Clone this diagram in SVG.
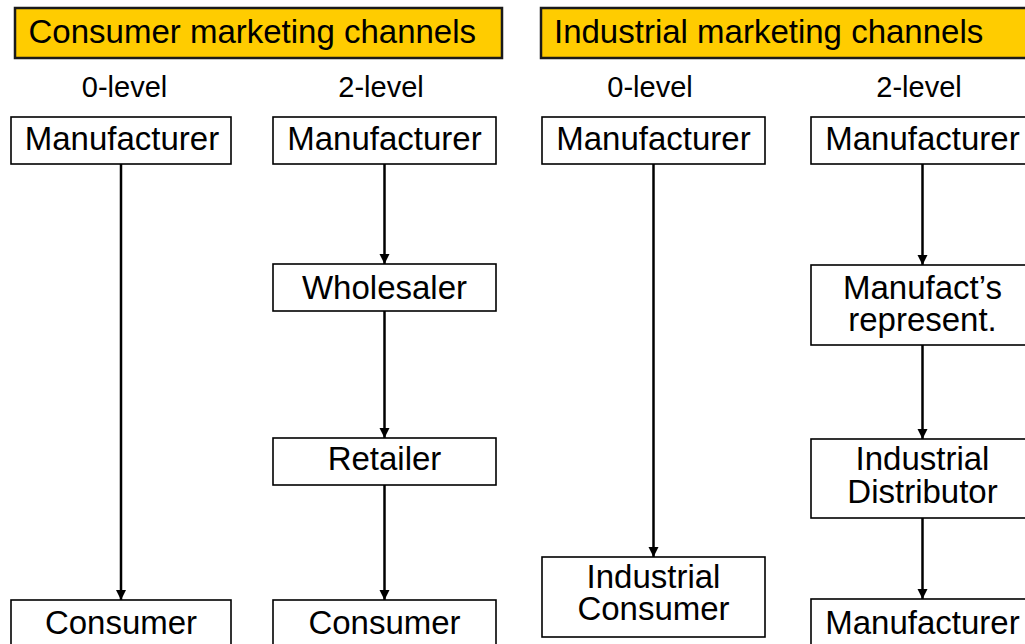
<svg xmlns="http://www.w3.org/2000/svg" width="1025" height="644" viewBox="0 0 1025 644">
  <style>
    text { font-family: "Liberation Sans", Arial, sans-serif; fill: #000; }
    .hdr rect { fill: #FFCC00; stroke: #1a1a1a; stroke-width: 2.5; }
    .hdr text { font-size: 33px; }
    .lvl { font-size: 29px; text-anchor: middle; }
    .node rect { fill: #fff; stroke: #000; stroke-width: 1.6; }
    .node text { font-size: 33px; text-anchor: middle; }
    .conn line { stroke: #000; stroke-width: 2.5; marker-end: url(#arrow); }
  </style>
  <defs>
    <marker id="arrow" markerUnits="userSpaceOnUse" markerWidth="11" markerHeight="11" refX="10" refY="5" orient="auto">
      <path d="M0,0 L10,5 L0,10 z" fill="#000"/>
    </marker>
  </defs>

  <rect width="1025" height="644" fill="#fff"/>

  <!-- section headers -->
  <g id="hdr-consumer" class="hdr">
    <rect x="15" y="8" width="487" height="50"/>
    <text x="28.5" y="43">Consumer marketing channels</text>
  </g>
  <g id="hdr-industrial" class="hdr">
    <rect x="541" y="8" width="500" height="50"/>
    <text x="554" y="43">Industrial marketing channels</text>
  </g>

  <!-- channel level labels -->
  <g id="levels">
    <text class="lvl" x="124.5" y="97">0-level</text>
    <text class="lvl" x="381" y="97">2-level</text>
    <text class="lvl" x="650" y="97">0-level</text>
    <text class="lvl" x="919" y="97">2-level</text>
  </g>

  <!-- connectors -->
  <g id="connectors" class="conn">
    <line x1="121" y1="164" x2="121" y2="600"/>
    <line x1="384.5" y1="164" x2="384.5" y2="264"/>
    <line x1="384.5" y1="311" x2="384.5" y2="438"/>
    <line x1="384.5" y1="485" x2="384.5" y2="600"/>
    <line x1="653.5" y1="164" x2="653.5" y2="557"/>
    <line x1="922.5" y1="164" x2="922.5" y2="265"/>
    <line x1="922.5" y1="345" x2="922.5" y2="439"/>
    <line x1="922.5" y1="518" x2="922.5" y2="599"/>
  </g>

  <!-- consumer, 0-level -->
  <g id="c0-manufacturer" class="node">
    <rect x="11" y="117" width="220" height="47"/>
    <text x="122" y="149.5">Manufacturer</text>
  </g>
  <g id="c0-consumer" class="node">
    <rect x="11" y="600" width="220" height="47"/>
    <text x="121" y="634">Consumer</text>
  </g>

  <!-- consumer, 2-level -->
  <g id="c2-manufacturer" class="node">
    <rect x="273" y="117" width="223" height="47"/>
    <text x="384.5" y="149.5">Manufacturer</text>
  </g>
  <g id="c2-wholesaler" class="node">
    <rect x="273" y="264" width="223" height="47"/>
    <text x="384.5" y="299">Wholesaler</text>
  </g>
  <g id="c2-retailer" class="node">
    <rect x="273" y="438" width="223" height="47"/>
    <text x="384.5" y="470">Retailer</text>
  </g>
  <g id="c2-consumer" class="node">
    <rect x="273" y="600" width="223" height="47"/>
    <text x="384.5" y="634">Consumer</text>
  </g>

  <!-- industrial, 0-level -->
  <g id="i0-manufacturer" class="node">
    <rect x="542" y="117" width="223" height="47"/>
    <text x="653.5" y="149.5">Manufacturer</text>
  </g>
  <g id="i0-consumer" class="node">
    <rect x="542" y="557" width="223" height="80"/>
    <text x="653.5" y="588">Industrial</text>
    <text x="653.5" y="620">Consumer</text>
  </g>

  <!-- industrial, 2-level -->
  <g id="i2-manufacturer" class="node">
    <rect x="811" y="117" width="223" height="47"/>
    <text x="922.5" y="149.5">Manufacturer</text>
  </g>
  <g id="i2-representative" class="node">
    <rect x="811" y="265" width="223" height="80"/>
    <text x="922.5" y="299">Manufact’s</text>
    <text x="922.5" y="331">represent.</text>
  </g>
  <g id="i2-distributor" class="node">
    <rect x="811" y="439" width="223" height="79"/>
    <text x="922.5" y="470">Industrial</text>
    <text x="922.5" y="503">Distributor</text>
  </g>
  <g id="i2-manufacturer-end" class="node">
    <rect x="811" y="599" width="223" height="47"/>
    <text x="922.5" y="634">Manufacturer</text>
  </g>
</svg>
